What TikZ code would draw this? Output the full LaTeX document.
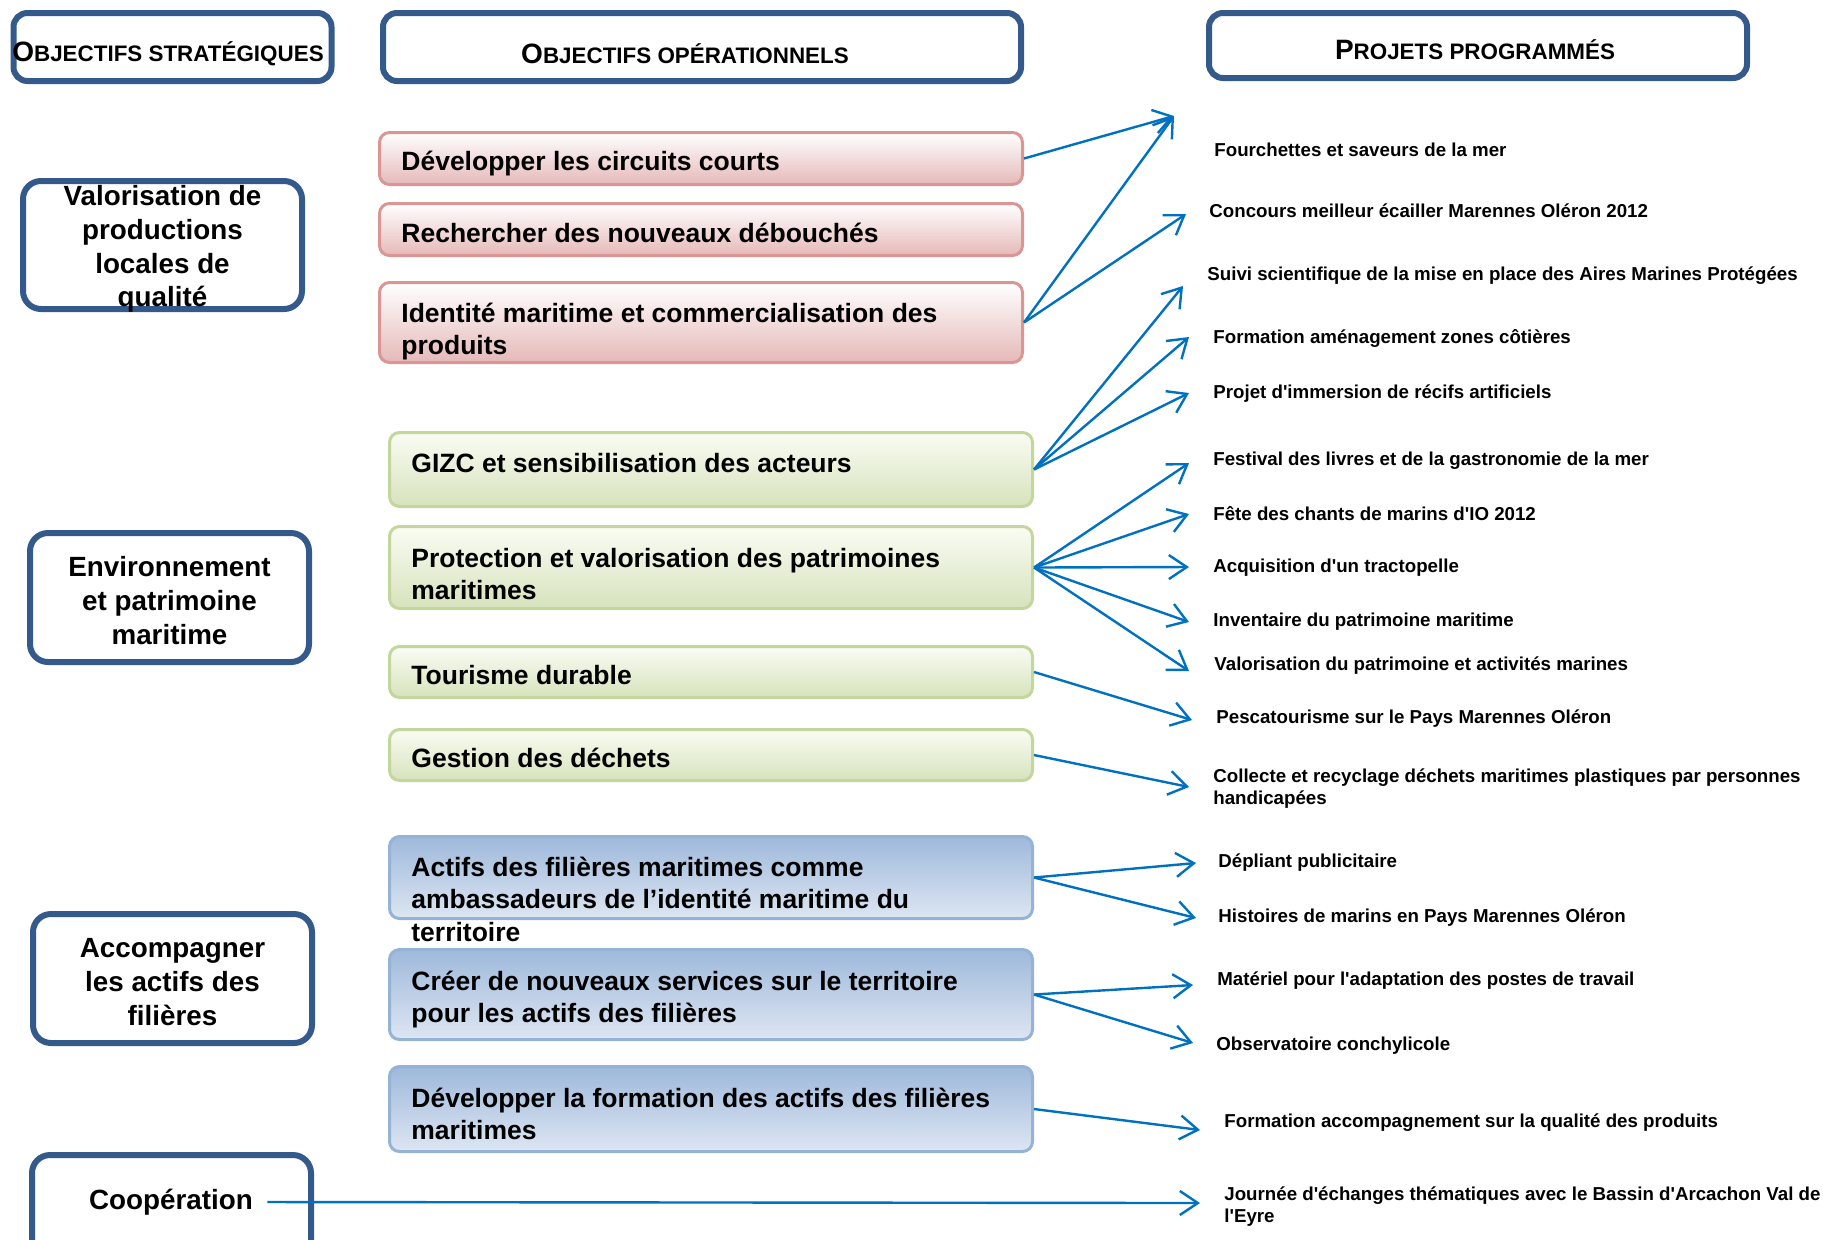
\documentclass[tikz,border=0pt]{standalone}
\usepackage{fontspec}
\setmainfont{Liberation Sans}
\usepackage{xcolor}
\definecolor{Navy}{RGB}{52,90,140}
\definecolor{Arrow}{RGB}{0,112,192}
\definecolor{RedLine}{RGB}{217,150,148}
\definecolor{RedFill}{RGB}{229,185,184}
\definecolor{GreenLine}{RGB}{195,214,155}
\definecolor{GreenFill}{RGB}{214,227,188}
\definecolor{GreenTop}{RGB}{250,252,244}
\definecolor{BlueLine}{RGB}{149,179,215}
\definecolor{BlueFill}{RGB}{158,185,219}
\definecolor{BlueLight}{RGB}{221,230,242}
\definecolor{Black}{RGB}{0,0,0}
\definecolor{White}{RGB}{255,255,255}
\newcommand{\headtitle}[2]		{{\fontsize{14}{16}\selectfont #1}{\fontsize{11.2}{13}\selectfont #2}}
\newcommand{\stratfont}			{\fontsize{13.9}{16.8}\selectfont\bfseries}
\newcommand{\opfont}			{\fontsize{13.25}{16.3}\selectfont\bfseries}
\newcommand{\projfont}			{\fontsize{9.35}{11}\selectfont\bfseries}
\usepackage{tikz}
\usetikzlibrary{arrows.meta}
\tikzset{
	headbox/.style={draw=Navy, line width=3pt, rounded corners=7pt, fill=White, inner sep=0pt},
	headtext/.style={inner sep=0pt, font=\bfseries},
	stratbox/.style={draw=Navy, line width=3pt, rounded corners=9pt, fill=White, inner sep=0pt, minimum width=139.5pt},
	strattext/.style={inner sep=0pt, align=center, font=\stratfont},
	redbox/.style={draw=RedLine, line width=1.5pt, rounded corners=5pt, top color=White, bottom color=RedFill, minimum width=321.5pt},
	greenbox/.style={draw=GreenLine, line width=1.5pt, rounded corners=5pt, top color=GreenTop, bottom color=GreenFill, minimum width=321.5pt},
	bluebox/.style={draw=BlueLine, line width=1.5pt, rounded corners=5pt, top color=BlueFill, bottom color=BlueLight, minimum width=321.5pt},
	optext/.style={anchor=west, align=left, inner sep=0pt, font=\opfont},
	projtext/.style={anchor=west, align=left, inner sep=0pt, font=\projfont},
	link/.style={draw=Arrow, line width=1.2pt, -{Straight Barb[length=9pt,width=12pt]}}
}
\begin{document}
\begin{tikzpicture}[x=0.5pt, y=-0.5pt]
		
		\useasboundingbox (0,0) rectangle (1823,1239);
		\clip (0,0) rectangle (1823,1239);
		
		% Headers
		\node[headbox, minimum width=159pt, minimum height=34pt] (hstrat) at (172.5,47) {};
		\node[headbox, minimum width=319pt, minimum height=34pt] (hop) at (702,47) {};
		\node[headbox, minimum width=269pt, minimum height=32.5pt] (hproj) at (1478,45.5) {};
		\node[headtext] (hstrat-txt) at (168,54) {\headtitle{O}{BJECTIFS STRATÉGIQUES}};
		\node[headtext] (hop-txt) at (685,54) {\headtitle{O}{BJECTIFS OPÉRATIONNELS}};
		\node[headtext] (hproj-txt) at (1475,50) {\headtitle{P}{ROJETS PROGRAMMÉS}};
		
		% Strategic objectives
		\node[stratbox, minimum height=64pt] (valorisation) at (162.5,245) {};
		\node[stratbox, minimum height=64.5pt] (environnement) at (169.5,597.5) {};
		\node[stratbox, minimum height=64.5pt] (accompagner) at (172.5,978.5) {};
		\node[stratbox, minimum height=64.5pt] (cooperation) at (171.5,1219.5) {};
		
		\node[strattext] (valorisation-txt) at (162.5,249) {Valorisation de\\productions\\locales de\\qualité};
		\node[strattext] (environnement-txt) at (169.5,600.5) {Environnement\\et patrimoine\\maritime};
		\node[strattext] (accompagner-txt) at (172.5,982) {Accompagner\\les actifs des\\filières};
		\node[strattext, inner xsep=7pt] (coop) at (171,1202) {Coopération};
		
		% Operational objectives
		\node[redbox, minimum height=26pt] (circuits) at (701,158.5) {};
		\node[redbox, minimum height=26pt] (debouches) at (701,229.5) {};
		\node[redbox, minimum height=40pt] (identite) at (701,322.5) {};
		\node[greenbox, minimum height=37pt] (gizc) at (711,469.5) {};
		\node[greenbox, minimum height=41pt] (patrimoine) at (711,567.5) {};
		\node[greenbox, minimum height=25.5pt] (tourisme) at (711,672) {};
		\node[greenbox, minimum height=25.5pt] (dechets) at (711,755) {};
		\node[bluebox, minimum height=41pt] (actifs) at (711,877.5) {};
		\node[bluebox, minimum height=45pt] (services) at (711,994.5) {};
		\node[bluebox, minimum height=42.5pt] (formation) at (711,1109) {};
		
		\node[optext] (circuits-txt) at (401,163.5) {Développer les circuits courts};
		\node[optext] (debouches-txt) at (401,232.5) {Rechercher des nouveaux débouchés};
		\node[optext] (identite-txt) at (401,331.5) {Identité maritime et commercialisation des\\produits};
		\node[optext] (gizc-txt) at (411,462.6) {GIZC et sensibilisation des acteurs};
		\node[optext] (patrimoine-txt) at (411,574) {Protection et valorisation des patrimoines\\maritimes};
		\node[optext] (tourisme-txt) at (411,675.3) {Tourisme durable};
		\node[optext] (dechets-txt) at (411,758) {Gestion des déchets};
		\node[optext] (actifs-txt) at (411,899) {Actifs des filières maritimes comme\\ambassadeurs de l’identité maritime du\\territoire};
		\node[optext] (services-txt) at (411,999.5) {Créer de nouveaux services sur le territoire\\pour les actifs des filières};
		\node[optext] (formation-txt) at (411,1114) {Développer la formation des actifs des filières\\maritimes};
		
		% Projects
		\node[projtext] (fourchettes) at (1214,150) {Fourchettes et saveurs de la mer};
		\node[projtext] (concours) at (1209,211) {Concours meilleur écailler Marennes Oléron 2012};
		\node[projtext] (suivi) at (1207,276) {Suivi scientifique de la mise en place des Aires Marines Protégées};
		\node[projtext] (amenagement) at (1213,338) {Formation aménagement zones côtières};
		\node[projtext] (recifs) at (1213,393.5) {Projet d\textquotesingle immersion de récifs artificiels};
		\node[projtext] (festival) at (1213,461) {Festival des livres et de la gastronomie de la mer};
		\node[projtext] (chants) at (1213,514) {Fête des chants de marins d\textquotesingle IO 2012};
		\node[projtext] (tractopelle) at (1213,568) {Acquisition d\textquotesingle un tractopelle};
		\node[projtext] (inventaire) at (1213,622) {Inventaire du patrimoine maritime};
		\node[projtext] (activites) at (1214,666) {Valorisation du patrimoine et activités marines};
		\node[projtext] (pescatourisme) at (1216,719) {Pescatourisme sur le Pays Marennes Oléron};
		\node[projtext] (collecte) at (1213,789) {Collecte et recyclage déchets maritimes plastiques par personnes\\handicapées};
		\node[projtext] (depliant) at (1218,863) {Dépliant publicitaire};
		\node[projtext] (histoires) at (1218,918) {Histoires de marins en Pays Marennes Oléron};
		\node[projtext] (materiel) at (1217,981) {Matériel pour l\textquotesingle adaptation des postes de travail};
		\node[projtext] (observatoire) at (1216,1046) {Observatoire conchylicole};
		\node[projtext] (qualite) at (1224,1123) {Formation accompagnement sur la qualité des produits};
		\node[projtext] (journee) at (1224,1207) {Journée d\textquotesingle échanges thématiques avec le Bassin d\textquotesingle Arcachon Val de\\l\textquotesingle Eyre};
		
		% Arrow tips
		\coordinate (fourchettes-in) at (1174,116);
		\coordinate (concours-in) at (1186,214);
		\coordinate (suivi-in) at (1183,286);
		\coordinate (amenagement-in) at (1189,337);
		\coordinate (recifs-in) at (1189,393);
		\coordinate (festival-in) at (1189,463);
		\coordinate (chants-in) at (1189,514);
		\coordinate (tractopelle-in) at (1189,567);
		\coordinate (inventaire-in) at (1189,622);
		\coordinate (activites-in) at (1189,671);
		\coordinate (pescatourisme-in) at (1192,720);
		\coordinate (collecte-in) at (1189,787);
		\coordinate (depliant-in) at (1196,863);
		\coordinate (histoires-in) at (1196,918);
		\coordinate (materiel-in) at (1193,985);
		\coordinate (observatoire-in) at (1193,1043);
		\coordinate (qualite-in) at (1200,1130);
		\coordinate (journee-in) at (1200,1203);
		
		% Links
		\draw[link] (circuits.east) -- (fourchettes-in);
		\draw[link] (identite.east) -- (fourchettes-in);
		\draw[link] (identite.east) -- (concours-in);
		
		\draw[link] (gizc.east) -- (suivi-in);
		\draw[link] (gizc.east) -- (amenagement-in);
		\draw[link] (gizc.east) -- (recifs-in);
		
		\draw[link] (patrimoine.east) -- (festival-in);
		\draw[link] (patrimoine.east) -- (chants-in);
		\draw[link] (patrimoine.east) -- (tractopelle-in);
		\draw[link] (patrimoine.east) -- (inventaire-in);
		\draw[link] (patrimoine.east) -- (activites-in);
		
		\draw[link] (tourisme.east) -- (pescatourisme-in);
		\draw[link] (dechets.east) -- (collecte-in);
		
		\draw[link] (actifs.east) -- (depliant-in);
		\draw[link] (actifs.east) -- (histoires-in);
		\draw[link] (services.east) -- (materiel-in);
		\draw[link] (services.east) -- (observatoire-in);
		\draw[link] (formation.east) -- (qualite-in);
		
		\draw[link] (coop.east) -- (journee-in);
		
	\end{tikzpicture}
\end{document}
